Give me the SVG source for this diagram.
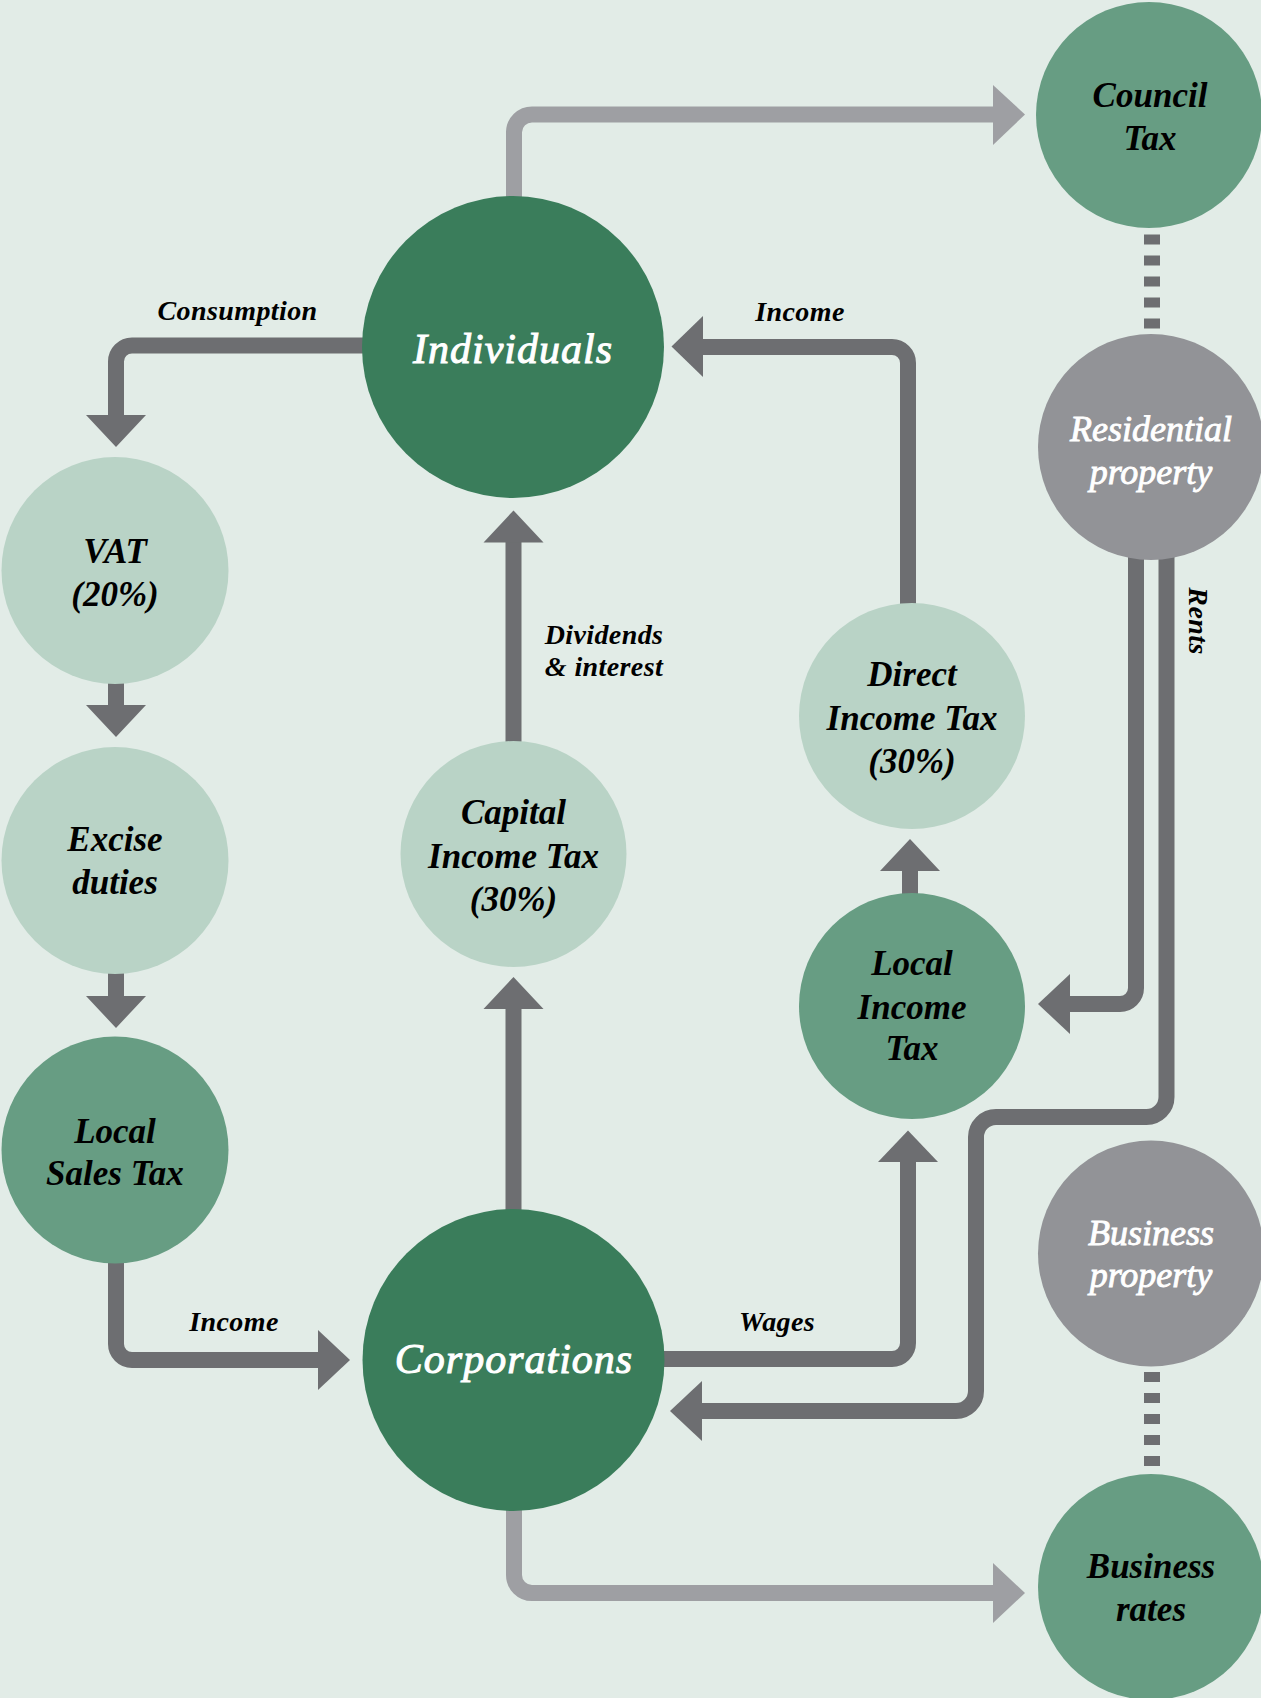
<svg xmlns="http://www.w3.org/2000/svg" width="1261" height="1698" viewBox="0 0 1261 1698">
<style>
.bg{fill:#e2ece7}
.dk{fill:#3a7d5b}
.md{fill:#679d83}
.lt{fill:#b9d3c6}
.gy{fill:#929397}
.c{fill:none;stroke:#6d6e71;stroke-width:16}
.cl{fill:none;stroke:#9e9fa3;stroke-width:16}
.ah{fill:#6d6e71}
.ahl{fill:#9e9fa3}
.dot{fill:none;stroke:#6d6e71;stroke-width:16;stroke-dasharray:10 11}
.nb{font-family:"Liberation Serif",serif;font-style:italic;font-weight:bold;font-size:35px;fill:#000;text-anchor:middle}
.nw{font-family:"Liberation Serif",serif;font-style:italic;font-size:36px;fill:#fff;stroke:#fff;stroke-width:0.9;text-anchor:middle}
.big{font-family:"Liberation Serif",serif;font-style:italic;font-size:42px;fill:#fff;stroke:#fff;stroke-width:1;text-anchor:middle;letter-spacing:1px}
.lb{font-family:"Liberation Serif",serif;font-style:italic;font-weight:bold;font-size:28px;fill:#000;text-anchor:middle;letter-spacing:0.4px}
</style>
<rect class="bg" x="0" y="0" width="1261" height="1698"/>
<g id="connectors">
  <path class="cl" d="M514 220 L514 132 A18 18 0 0 1 532 114.5 L995 114.5"/>
  <polygon class="ahl" points="993,85 1025,114.5 993,145"/>
  <path class="cl" d="M514 1490 L514 1575 A18 18 0 0 0 532 1593 L995 1593"/>
  <polygon class="ahl" points="993,1563 1025,1593 993,1623"/>
  <path class="c" d="M380 345.5 L132 345.5 A16 16 0 0 0 116 361.5 L116 417"/>
  <polygon class="ah" points="86,415 146,415 116,447"/>
  <path class="c" d="M116 680 L116 707"/>
  <polygon class="ah" points="86,705 146,705 116,737"/>
  <path class="c" d="M116 970 L116 998"/>
  <polygon class="ah" points="86,996 146,996 116,1028"/>
  <path class="c" d="M116 1255 L116 1344 A16 16 0 0 0 132 1360 L320 1360"/>
  <polygon class="ah" points="318,1330 350,1360 318,1390"/>
  <path class="c" d="M513.5 1220 L513.5 1007"/>
  <polygon class="ah" points="483.5,1009 543.5,1009 513.5,977"/>
  <path class="c" d="M513.5 750 L513.5 540"/>
  <polygon class="ah" points="483.5,542.5 543.5,542.5 513.5,510.5"/>
  <path class="c" d="M908 610 L908 363 A16 16 0 0 0 892 347 L701 347"/>
  <polygon class="ah" points="703,316 671.5,346.5 703,377"/>
  <path class="c" d="M910 900 L910 869"/>
  <polygon class="ah" points="880,871 940,871 910,839"/>
  <path class="c" d="M650 1359 L892 1359 A16 16 0 0 0 908 1343 L908 1160"/>
  <polygon class="ah" points="878,1162 938,1162 908,1130.5"/>
  <path class="c" d="M1136 550 L1136 988 A16 16 0 0 1 1120 1004 L1068 1004"/>
  <polygon class="ah" points="1070,974 1038,1004 1070,1034"/>
  <path class="c" d="M1166.5 550 L1166.5 1097 A20 20 0 0 1 1146.5 1117 L996 1117 A20 20 0 0 0 976 1137 L976 1391 A20 20 0 0 1 956 1411 L700 1411"/>
  <polygon class="ah" points="702,1381 670,1411 702,1441"/>
  <path class="dot" d="M1152 234.5 L1152 330"/>
  <path class="dot" d="M1152 1372 L1152 1467"/>
</g>
<g id="individuals">
  <circle class="dk" cx="513" cy="347" r="151"/>
  <text class="big" x="513" y="362.5">Individuals</text>
</g>
<g id="corporations">
  <circle class="dk" cx="513.5" cy="1360" r="151"/>
  <text class="big" x="514" y="1373">Corporations</text>
</g>
<g id="council-tax">
  <circle class="md" cx="1149" cy="115" r="113"/>
  <text class="nb" x="1150" y="107">Council</text>
  <text class="nb" x="1150" y="149.5">Tax</text>
</g>
<g id="residential-property">
  <circle class="gy" cx="1151" cy="447" r="113"/>
  <text class="nw" x="1151" y="441">Residential</text>
  <text class="nw" x="1151" y="484">property</text>
</g>
<g id="vat">
  <circle class="lt" cx="115" cy="570.5" r="113.5"/>
  <text class="nb" x="115" y="562.5">VAT</text>
  <text class="nb" x="115" y="606">(20%)</text>
</g>
<g id="excise-duties">
  <circle class="lt" cx="115" cy="860.5" r="113.5"/>
  <text class="nb" x="115" y="850.7">Excise</text>
  <text class="nb" x="115" y="893.6">duties</text>
</g>
<g id="local-sales-tax">
  <circle class="md" cx="115" cy="1150" r="113.5"/>
  <text class="nb" x="115" y="1142.5">Local</text>
  <text class="nb" x="115" y="1184.8">Sales Tax</text>
</g>
<g id="capital-income-tax">
  <circle class="lt" cx="513.5" cy="854" r="113"/>
  <text class="nb" x="513.5" y="824">Capital</text>
  <text class="nb" x="513.5" y="867.5">Income Tax</text>
  <text class="nb" x="513.5" y="910.7">(30%)</text>
</g>
<g id="direct-income-tax">
  <circle class="lt" cx="912" cy="716" r="113"/>
  <text class="nb" x="912" y="686">Direct</text>
  <text class="nb" x="912" y="730">Income Tax</text>
  <text class="nb" x="912" y="773">(30%)</text>
</g>
<g id="local-income-tax">
  <circle class="md" cx="912" cy="1006" r="113"/>
  <text class="nb" x="912" y="975">Local</text>
  <text class="nb" x="912" y="1018.5">Income</text>
  <text class="nb" x="912" y="1060">Tax</text>
</g>
<g id="business-property">
  <circle class="gy" cx="1151" cy="1253.5" r="113"/>
  <text class="nw" x="1151" y="1245">Business</text>
  <text class="nw" x="1151" y="1287">property</text>
</g>
<g id="business-rates">
  <circle class="md" cx="1151" cy="1587" r="113"/>
  <text class="nb" x="1151" y="1578">Business</text>
  <text class="nb" x="1151" y="1620.6">rates</text>
</g>
<g id="labels">
  <text class="lb" x="237.5" y="320">Consumption</text>
  <text class="lb" x="800" y="321">Income</text>
  <text class="lb" x="604" y="643.6">Dividends</text>
  <text class="lb" x="604" y="676.4">&amp; interest</text>
  <text class="lb" x="234" y="1331">Income</text>
  <text class="lb" x="777" y="1331">Wages</text>
  <text class="lb" transform="translate(1189,621) rotate(90)">Rents</text>
</g>
</svg>
